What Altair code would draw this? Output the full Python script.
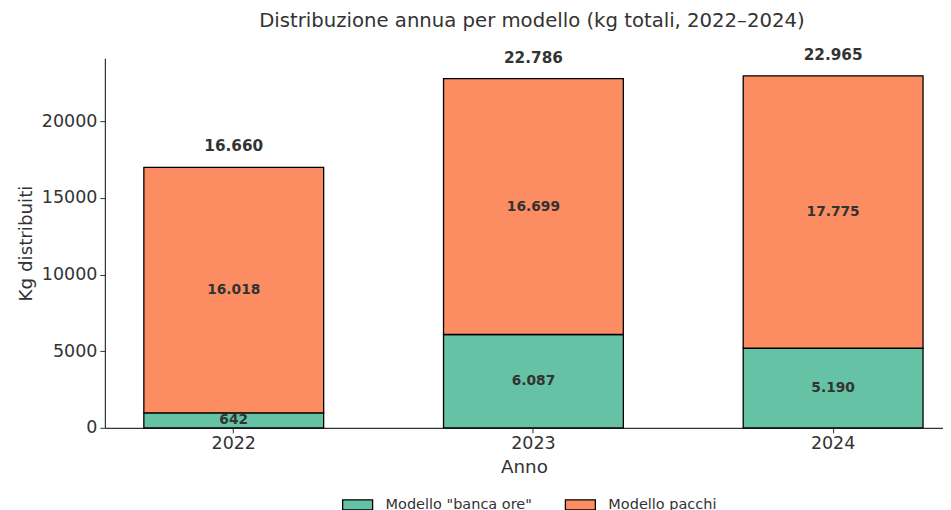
import altair as alt
import pandas as pd

anni = ["2022", "2023", "2024"]
modelli = ['Modello "banca ore"', "Modello pacchi"]
banca_ore = [980, 6087, 5190]
pacchi = [16018, 16699, 17775]
etichette_banca = ["642", "6.087", "5.190"]
etichette_pacchi = ["16.018", "16.699", "17.775"]
etichette_totali = ["16.660", "22.786", "22.965"]
colori = ["#66c2a5", "#fc8d62"]

rows = []
for i, a in enumerate(anni):
    rows.append({"Anno": a, "Modello": modelli[0], "valore": banca_ore[i], "label": etichette_banca[i], "ordine": 0})
    rows.append({"Anno": a, "Modello": modelli[1], "valore": pacchi[i], "label": etichette_pacchi[i], "ordine": 1})
df = pd.DataFrame(rows)
tot = pd.DataFrame({"Anno": anni, "totale": [b + p for b, p in zip(banca_ore, pacchi)], "label": etichette_totali})

FONT = "DejaVu Sans"
TXT = "#333333"

xscale = alt.Scale(domain=anni, paddingInner=0.4, paddingOuter=0.0983, align=0.661)
yscale = alt.Scale(domain=[0, 24113], nice=False, zero=True)

base = alt.Chart(df)

bars = base.mark_bar(stroke="black", strokeWidth=1.3).encode(
    x=alt.X("Anno:N", scale=xscale, title="Anno",
            axis=alt.Axis(labelAngle=0)),
    y=alt.Y("valore:Q", stack="zero", scale=yscale, title="Kg distribuiti",
            axis=alt.Axis(values=[0, 5000, 10000, 15000, 20000], format="d")),
    color=alt.Color("Modello:N", scale=alt.Scale(domain=modelli, range=colori),
                    legend=alt.Legend(title=None, orient="none", direction="horizontal",
                                      legendX=237, legendY=431, padding=0,
                                      symbolType="M-1,-0.34H1V0.34H-1Z", symbolSize=900,
                                      symbolStrokeColor="black", symbolStrokeWidth=1.3,
                                      symbolOpacity=1,
                                      labelFontSize=14.5, labelFont=FONT, labelColor=TXT,
                                      columnPadding=30, labelOffset=12)),
    order=alt.Order("ordine:Q"),
)

inner = base.transform_stack(
    stack="valore", groupby=["Anno"], as_=["v0", "v1"], sort=[alt.SortField("ordine")]
).transform_calculate(mid="(datum.v0 + datum.v1) / 2").mark_text(
    font=FONT, fontSize=13.8, fontWeight="bold", color=TXT, baseline="middle"
).encode(
    x=alt.X("Anno:N", scale=xscale),
    y=alt.Y("mid:Q", scale=yscale),
    text="label:N",
)

totals = alt.Chart(tot).mark_text(
    font=FONT, fontSize=15.3, fontWeight="bold", color=TXT, baseline="middle", dy=-21
).encode(
    x=alt.X("Anno:N", scale=xscale),
    y=alt.Y("totale:Q", scale=yscale),
    text="label:N",
)

chart = alt.layer(bars, inner, totals).properties(
    width=839, height=370,
    padding={"left": 8, "top": 2, "right": 0, "bottom": 0},
    title=alt.TitleParams("Distribuzione annua per modello (kg totali, 2022–2024)",
                          font=FONT, fontSize=19.7, fontWeight="normal", color=TXT,
                          offset=17, dx=8),
).configure_view(stroke=None).configure_axis(
    grid=False, domainColor="#333333", tickColor="#333333", domainWidth=1.2,
    tickSize=5, labelFont=FONT, titleFont=FONT, labelFontSize=17.5, titleFontSize=18.3,
    labelColor=TXT, titleColor=TXT, titleFontWeight="normal",
).configure_axisX(labelPadding=2, titlePadding=6).configure_axisY(labelPadding=3, titlePadding=6)

chart.save("out.html", embed_options={"renderer": "svg", "actions": False})
